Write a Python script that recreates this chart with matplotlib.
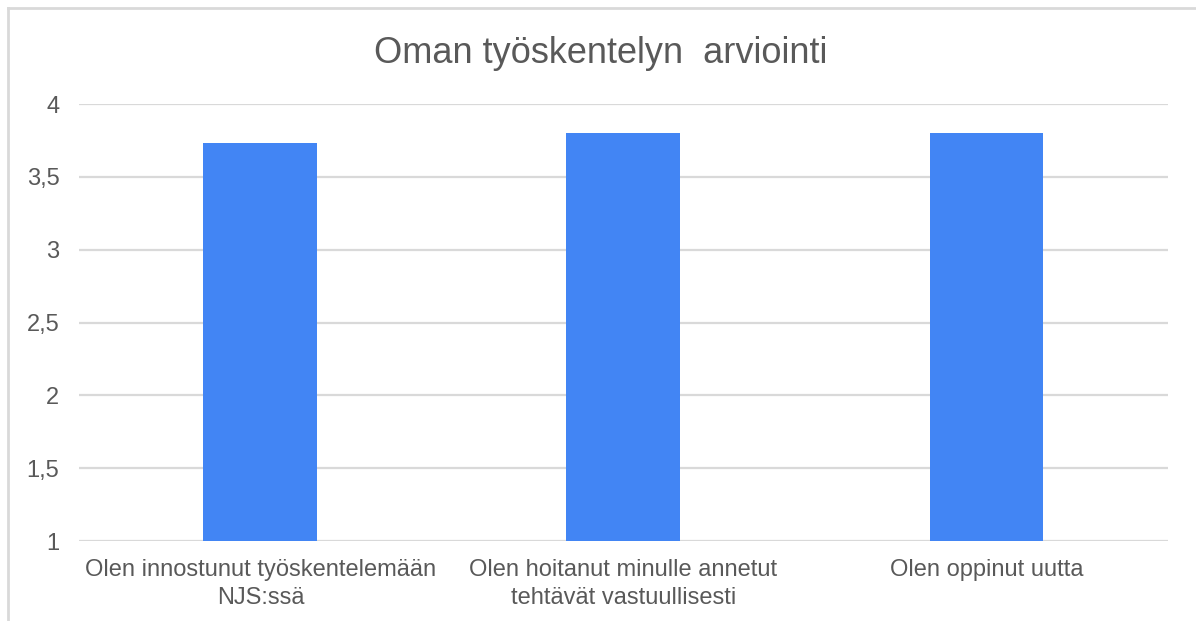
import matplotlib.pyplot as plt
from matplotlib.lines import Line2D

plt.rcParams['font.family'] = ['Liberation Sans', 'DejaVu Sans']

categories = ["Olen innostunut työskentelemään\nNJS:ssä",
              "Olen hoitanut minulle annetut\ntehtävät vastuullisesti",
              "Olen oppinut uutta"]
values = [3.73, 3.8, 3.8]
yticks = [1, 1.5, 2, 2.5, 3, 3.5, 4]
ytick_labels = ["1", "1,5", "2", "2,5", "3", "3,5", "4"]

txt = '#595959'
grid = '#d9d9d9'

fig = plt.figure(figsize=(11.96, 6.21), dpi=100)
ax = fig.add_axes([0.066, 0.1288, 0.9106, 0.7037])

x = range(len(categories))
ax.bar(x, [v - 1 for v in values], bottom=1, width=0.314, color='#4285F4', zorder=3)

ax.set_xlim(-0.5, len(categories) - 0.5)
ax.set_ylim(1, 4)
ax.set_yticks(yticks)
ax.set_yticklabels(ytick_labels, fontsize=17, color=txt)
ax.set_xticks(list(x))
ax.set_xticklabels(categories, fontsize=17, color=txt, linespacing=1.32)
ax.tick_params(axis='y', length=0, pad=14)
ax.tick_params(axis='x', length=0, pad=13)
ax.grid(axis='y', color=grid, linewidth=1.6, zorder=0)
for s in ax.spines.values():
    s.set_visible(False)

fig.text(0.502, 0.914, "Oman työskentelyn  arviointi", ha='center', va='center',
         fontsize=26, color=txt)

# outer frame (left and top edges)
fig.add_artist(Line2D([0.0067, 0.0067], [0, 0.987], color=grid, linewidth=2, transform=fig.transFigure))
fig.add_artist(Line2D([0.0067, 1], [0.987, 0.987], color=grid, linewidth=2, transform=fig.transFigure))

fig.savefig('out.png', dpi=100)
